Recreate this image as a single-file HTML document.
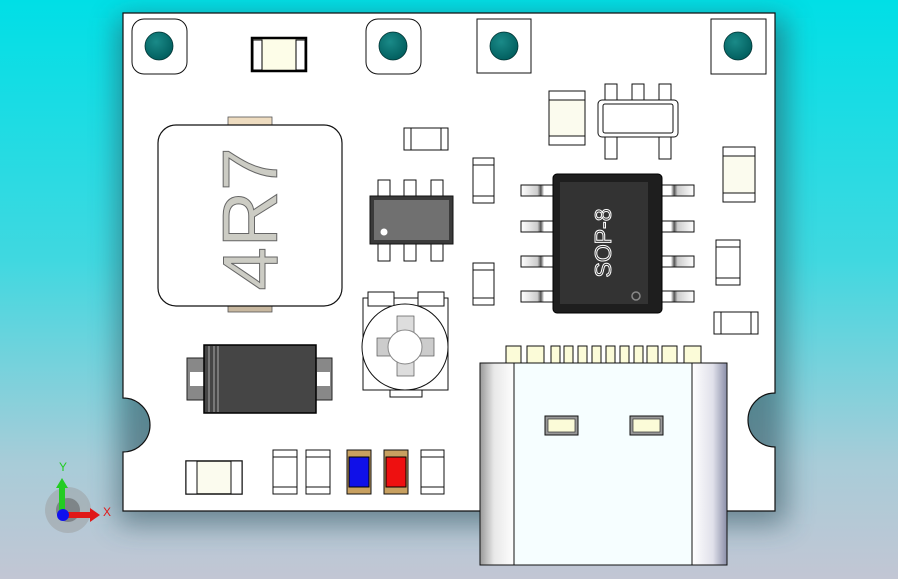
<!DOCTYPE html>
<html><head><style>
html,body{margin:0;padding:0;width:898px;height:579px;overflow:hidden}
svg{display:block}
</style></head><body>
<svg width="898" height="579" viewBox="0 0 898 579" xmlns="http://www.w3.org/2000/svg" font-family="Liberation Sans, sans-serif">
<defs>
<linearGradient id="bg" x1="0" y1="0" x2="0" y2="1">
<stop offset="0" stop-color="#00dfe6"/>
<stop offset="0.45" stop-color="#40d8e0"/>
<stop offset="0.8" stop-color="#a8ccd8"/>
<stop offset="1" stop-color="#c2c6d4"/>
</linearGradient>
<filter id="sh" x="-20%" y="-20%" width="140%" height="140%"><feGaussianBlur stdDeviation="14"/></filter>
<radialGradient id="hole" cx="0.4" cy="0.35" r="0.7"><stop offset="0" stop-color="#1a8a88"/><stop offset="1" stop-color="#005c5c"/></radialGradient>
<linearGradient id="usbL" x1="0" x2="1"><stop offset="0" stop-color="#999"/><stop offset="0.4" stop-color="#e8e8e8"/><stop offset="1" stop-color="#fff"/></linearGradient>
<linearGradient id="usbR" x1="0" x2="1"><stop offset="0" stop-color="#fff"/><stop offset="0.6" stop-color="#e0e0ea"/><stop offset="1" stop-color="#8a8ea8"/></linearGradient>
<linearGradient id="pin" x1="0" x2="1"><stop offset="0" stop-color="#fff"/><stop offset="0.5" stop-color="#ccc"/><stop offset="0.6" stop-color="#555"/><stop offset="0.7" stop-color="#fff"/><stop offset="1" stop-color="#fff"/></linearGradient>
</defs>
<rect width="898" height="579" fill="url(#bg)"/>
<!-- shadow -->
<rect x="118" y="18" width="668" height="506" fill="#2a4a55" opacity="0.55" filter="url(#sh)"/>
<!-- board -->
<path d="M123,13 H775 V393 A27,27 0 0 0 775,447 V511 H123 V452 A27,27 0 0 0 123,398 Z" fill="#fff" stroke="#111" stroke-width="1.2"/>
<!-- holes -->
<rect x="132" y="19" width="55" height="55" rx="12" fill="none" stroke="#111"/>
<circle cx="159" cy="46" r="14" fill="url(#hole)" stroke="#033" stroke-width="0.8"/>
<rect x="366" y="19" width="55" height="55" rx="12" fill="none" stroke="#111"/>
<circle cx="393" cy="46" r="14" fill="url(#hole)" stroke="#033" stroke-width="0.8"/>
<rect x="477" y="19" width="54" height="54" fill="none" stroke="#111"/>
<circle cx="504" cy="46" r="14" fill="url(#hole)" stroke="#033" stroke-width="0.8"/>
<rect x="711" y="19" width="55" height="55" fill="none" stroke="#111"/>
<circle cx="738" cy="46" r="14" fill="url(#hole)" stroke="#033" stroke-width="0.8"/>
<!-- top resistor -->
<rect x="252" y="38" width="54" height="33" fill="#fdfde8" stroke="#000" stroke-width="2.5"/>
<rect x="253" y="40" width="9" height="30" fill="#fff" stroke="#000" stroke-width="1"/>
<rect x="296" y="40" width="9" height="30" fill="#fff" stroke="#000" stroke-width="1"/>
<!-- inductor -->
<rect x="228" y="117" width="44" height="10" fill="#eedcc0" stroke="#555" stroke-width="0.8"/>
<rect x="228" y="303" width="44" height="9" fill="#c8b8a0" stroke="#555" stroke-width="0.8"/>
<rect x="158" y="125" width="184" height="181" rx="18" fill="#fff" stroke="#111" stroke-width="1.2"/>
<text x="0" y="0" transform="translate(277,219) rotate(-90)" text-anchor="middle" font-size="78" fill="#ccccc4" stroke="#666" stroke-width="1">4R7</text>
<!-- small resistors -->
<rect x="404" y="128" width="44" height="22" fill="#fff" stroke="#111"/>
<line x1="411" y1="128" x2="411" y2="150" stroke="#111"/><line x1="441" y1="128" x2="441" y2="150" stroke="#111"/>
<rect x="549" y="91" width="36" height="54" fill="#fbfbee" stroke="#111"/>
<rect x="549" y="91" width="36" height="9" fill="#fff" stroke="#111"/><rect x="549" y="136" width="36" height="9" fill="#fff" stroke="#111"/>
<rect x="723" y="147" width="32" height="55" fill="#fbfbee" stroke="#111"/>
<rect x="723" y="147" width="32" height="9" fill="#fff" stroke="#111"/><rect x="723" y="193" width="32" height="9" fill="#fff" stroke="#111"/>
<rect x="473" y="158" width="21" height="45" fill="#fff" stroke="#111"/>
<line x1="473" y1="165" x2="494" y2="165" stroke="#111"/><line x1="473" y1="196" x2="494" y2="196" stroke="#111"/>
<rect x="473" y="263" width="21" height="42" fill="#fff" stroke="#111"/>
<line x1="473" y1="270" x2="494" y2="270" stroke="#111"/><line x1="473" y1="298" x2="494" y2="298" stroke="#111"/>
<rect x="716" y="240" width="24" height="45" fill="#fff" stroke="#111"/>
<line x1="716" y1="247" x2="740" y2="247" stroke="#111"/><line x1="716" y1="278" x2="740" y2="278" stroke="#111"/>
<rect x="714" y="312" width="44" height="22" fill="#fff" stroke="#111"/>
<line x1="721" y1="312" x2="721" y2="334" stroke="#111"/><line x1="751" y1="312" x2="751" y2="334" stroke="#111"/>
<!-- SOT23-5 top right -->
<g stroke="#111" fill="#fff">
<rect x="605" y="84" width="12" height="16"/><rect x="632" y="84" width="12" height="16"/><rect x="659" y="84" width="12" height="16"/>
<rect x="605" y="137" width="12" height="22"/><rect x="659" y="137" width="12" height="22"/>
<rect x="598" y="100" width="80" height="37" rx="4"/>
<rect x="603" y="104" width="70" height="29" rx="2"/>
</g>
<!-- SOT23-6 -->
<g stroke="#111" fill="#fff">
<rect x="378" y="180" width="12" height="16"/><rect x="404" y="180" width="12" height="16"/><rect x="431" y="180" width="12" height="16"/>
<rect x="378" y="244" width="12" height="17"/><rect x="404" y="244" width="12" height="17"/><rect x="431" y="244" width="12" height="17"/>
</g>
<rect x="370" y="196" width="83" height="48" fill="#3a3a3a" stroke="#111"/>
<rect x="374" y="200" width="75" height="40" fill="#707070"/>
<circle cx="384" cy="232" r="3.5" fill="#fff"/>
<!-- SOP-8 -->
<g stroke="#111" fill="url(#pin)">
<rect x="521" y="185" width="33" height="11"/><rect x="521" y="221" width="33" height="11"/><rect x="521" y="256" width="33" height="11"/><rect x="521" y="291" width="33" height="11"/>
</g>
<g stroke="#111" fill="url(#pin)" transform="translate(1215,0) scale(-1,1)">
<rect x="521" y="185" width="33" height="11"/><rect x="521" y="221" width="33" height="11"/><rect x="521" y="256" width="33" height="11"/><rect x="521" y="291" width="33" height="11"/>
</g>
<rect x="553" y="174" width="109" height="139" rx="4" fill="#1e1e1e" stroke="#000"/>
<rect x="560" y="182" width="88" height="122" fill="#333"/>
<text transform="translate(611,243) rotate(-90)" text-anchor="middle" font-size="23" fill="#333" stroke="#fff" stroke-width="1">SOP-8</text>
<circle cx="636" cy="296" r="4" fill="none" stroke="#888" stroke-width="1.5"/>
<!-- trimpot -->
<rect x="363" y="298" width="85" height="92" fill="#fff" stroke="#111"/>
<rect x="368" y="292" width="26" height="14" fill="#fff" stroke="#111"/>
<rect x="418" y="292" width="26" height="14" fill="#fff" stroke="#111"/>
<rect x="390" y="390" width="32" height="7" fill="#fff" stroke="#111"/>
<circle cx="405" cy="347" r="43" fill="#fff" stroke="#111"/>
<rect x="397" y="316" width="17" height="60" fill="#ddd" stroke="#555" stroke-width="0.7"/>
<rect x="377" y="338" width="57" height="18" fill="#ccc" stroke="#555" stroke-width="0.7"/>
<circle cx="405" cy="347" r="17" fill="#fff" stroke="#888"/>
<!-- diode -->
<rect x="187" y="358" width="18" height="42" fill="#888" stroke="#222"/>
<rect x="315" y="358" width="17" height="42" fill="#888" stroke="#222"/>
<rect x="190" y="372" width="14" height="14" fill="#fff"/><rect x="317" y="372" width="13" height="14" fill="#fff"/>
<rect x="204" y="345" width="112" height="68" fill="#454545" stroke="#000" stroke-width="1.5"/>
<line x1="209" y1="346" x2="209" y2="412" stroke="#aaa"/><line x1="214" y1="346" x2="214" y2="412" stroke="#aaa"/><line x1="218" y1="346" x2="218" y2="412" stroke="#aaa"/>
<!-- bottom row -->
<rect x="186" y="461" width="56" height="33" fill="#fbfbee" stroke="#111" stroke-width="1.5"/>
<rect x="186" y="461" width="11" height="33" fill="#fff" stroke="#111"/><rect x="231" y="461" width="11" height="33" fill="#fff" stroke="#111"/>
<g stroke="#111" fill="#fff">
<rect x="273" y="450" width="24" height="44"/><rect x="306" y="450" width="24" height="44"/><rect x="421" y="450" width="23" height="44"/>
</g>
<g stroke="#111"><line x1="273" y1="457" x2="297" y2="457"/><line x1="273" y1="487" x2="297" y2="487"/><line x1="306" y1="457" x2="330" y2="457"/><line x1="306" y1="487" x2="330" y2="487"/><line x1="421" y1="457" x2="444" y2="457"/><line x1="421" y1="487" x2="444" y2="487"/></g>
<rect x="347" y="450" width="24" height="44" fill="#c8a060" stroke="#111"/>
<rect x="349" y="457" width="20" height="30" fill="#1010e8" stroke="#000"/>
<rect x="384" y="450" width="24" height="44" fill="#c8a060" stroke="#111"/>
<rect x="386" y="457" width="20" height="30" fill="#ee1010" stroke="#000"/>
<!-- USB-C -->
<g fill="#fbfbd8" stroke="#111">
<rect x="506" y="346" width="15" height="18"/><rect x="527" y="346" width="17" height="18"/>
<rect x="551" y="346" width="9" height="18"/><rect x="564" y="346" width="9" height="18"/><rect x="578" y="346" width="9" height="18"/><rect x="592" y="346" width="9" height="18"/><rect x="606" y="346" width="9" height="18"/><rect x="620" y="346" width="9" height="18"/><rect x="634" y="346" width="9" height="18"/><rect x="662" y="346" width="15" height="18"/><rect x="684" y="346" width="17" height="18"/>
<rect x="647" y="346" width="11" height="18"/>
</g>
<rect x="480" y="363" width="35" height="202" fill="url(#usbL)" stroke="#111"/>
<rect x="514" y="363" width="179" height="202" fill="#f6feff" stroke="#111"/>
<rect x="692" y="363" width="35" height="202" fill="url(#usbR)" stroke="#111"/>
<rect x="545" y="416" width="33" height="19" fill="#999" stroke="#111"/>
<rect x="548" y="419" width="27" height="13" fill="#fbfbd8" stroke="#333" stroke-width="0.7"/>
<rect x="630" y="416" width="33" height="19" fill="#999" stroke="#111"/>
<rect x="633" y="419" width="27" height="13" fill="#fbfbd8" stroke="#333" stroke-width="0.7"/>
<!-- axis triad -->
<circle cx="68" cy="510" r="23" fill="#999" opacity="0.45"/>
<circle cx="68" cy="510" r="12" fill="#555" opacity="0.5"/>
<rect x="59" y="486" width="6" height="26" fill="#22cc22"/>
<polygon points="56,488 62,478 68,488" fill="#22cc22"/>
<rect x="64" y="512" width="28" height="6" fill="#e01818"/>
<polygon points="90,508 100,515 90,522" fill="#e01818"/>
<circle cx="63" cy="515" r="6" fill="#1010ee"/>
<text x="59" y="471" font-size="12" fill="#22cc22">Y</text>
<text x="103" y="516" font-size="12" fill="#e01818">X</text>
</svg>
</body></html>
